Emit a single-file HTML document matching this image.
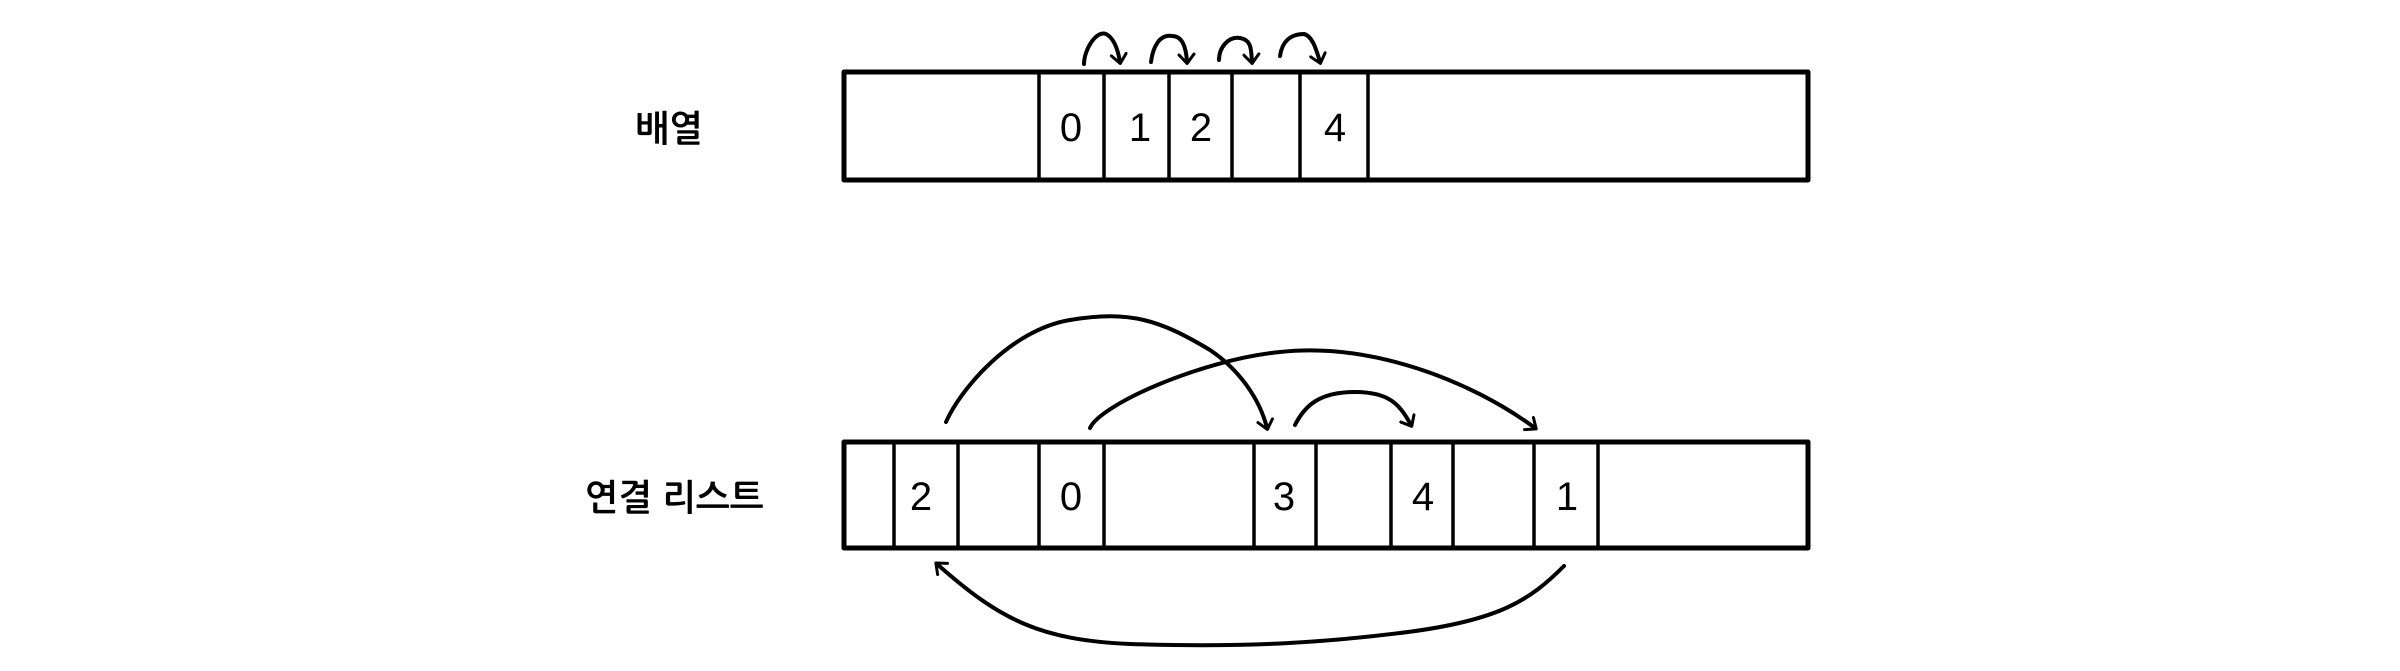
<!DOCTYPE html>
<html><head><meta charset="utf-8"><style>
html,body{margin:0;padding:0;background:#fff;}
svg{display:block;}
text{font-family:"Liberation Sans","NanumGothic","Noto Sans CJK KR",sans-serif;fill:#000;}
</style></head><body>
<svg width="2400" height="671" viewBox="0 0 2400 671" xmlns="http://www.w3.org/2000/svg">
<defs>
<marker id="ah" viewBox="0 0 12 12" refX="6" refY="6" markerWidth="4.5" markerHeight="4.5" orient="auto" markerUnits="strokeWidth">
<path d="M1,1 L7,6 L1,11" fill="none" stroke="#000" stroke-width="2" stroke-linecap="round" stroke-linejoin="round"/>
</marker>
</defs>
<g fill="none" stroke="#000" stroke-linecap="round" stroke-linejoin="round">
<!-- top array -->
<rect x="844" y="72" width="964" height="108" stroke-width="5"/>
<g stroke-width="3.5">
<line x1="1039" y1="72" x2="1039" y2="180"/>
<line x1="1104" y1="72" x2="1104" y2="180"/>
<line x1="1169" y1="72" x2="1169" y2="180"/>
<line x1="1232" y1="72" x2="1232" y2="180"/>
<line x1="1300" y1="72" x2="1300" y2="180"/>
<line x1="1368" y1="72" x2="1368" y2="180"/>
</g>
<g stroke-width="4" marker-end="url(#ah)">
<path d="M1084,64 C1084,50 1096,30 1106,34 C1114,38 1118,50 1120,62"/>
<path d="M1151,62 C1153,46 1160,34 1172,36 C1182,36 1186,46 1187,62"/>
<path d="M1219,60 C1219,48 1228,36 1240,38 C1252,40 1251,50 1252,62"/>
<path d="M1280,56 C1282,42 1290,34 1304,34 C1312,36 1316,48 1320,62"/>
</g>
<!-- bottom list -->
<rect x="844" y="442" width="964" height="106" stroke-width="5"/>
<g stroke-width="3.5">
<line x1="894" y1="442" x2="894" y2="548"/>
<line x1="958" y1="442" x2="958" y2="548"/>
<line x1="1039" y1="442" x2="1039" y2="548"/>
<line x1="1104" y1="442" x2="1104" y2="548"/>
<line x1="1254" y1="442" x2="1254" y2="548"/>
<line x1="1316" y1="442" x2="1316" y2="548"/>
<line x1="1391" y1="442" x2="1391" y2="548"/>
<line x1="1453" y1="442" x2="1453" y2="548"/>
<line x1="1534" y1="442" x2="1534" y2="548"/>
<line x1="1598" y1="442" x2="1598" y2="548"/>
</g>
<g stroke-width="4" marker-end="url(#ah)">
<path d="M946,422 C960,390 1010,330 1070,320 C1130,310 1160,320 1210,350 C1240,370 1260,400 1267,428"/>
<path d="M1090,428 C1100,405 1200,360 1280,352 C1370,342 1470,380 1535,428"/>
<path d="M1295,425 C1305,405 1320,392 1355,392 C1390,392 1400,405 1411,425"/>
<path d="M1564,566 C1530,600 1500,620 1408,632 C1330,642 1250,648 1130,644 C1040,640 1000,620 937,564"/>
</g>
</g>
<g font-size="40" text-anchor="middle">
<text x="1071" y="141">0</text>
<text x="1140" y="141">1</text>
<text x="1201" y="141">2</text>
<text x="1335" y="141">4</text>
<text x="921" y="510">2</text>
<text x="1071" y="510">0</text>
<text x="1284" y="510">3</text>
<text x="1423" y="510">4</text>
<text x="1567" y="510">1</text>
</g>
<text x="669" y="141" font-size="36" font-weight="bold" text-anchor="middle">배열</text>
<text x="674" y="510" font-size="36" font-weight="bold" text-anchor="middle">연결 리스트</text>
</svg>
</body></html>
